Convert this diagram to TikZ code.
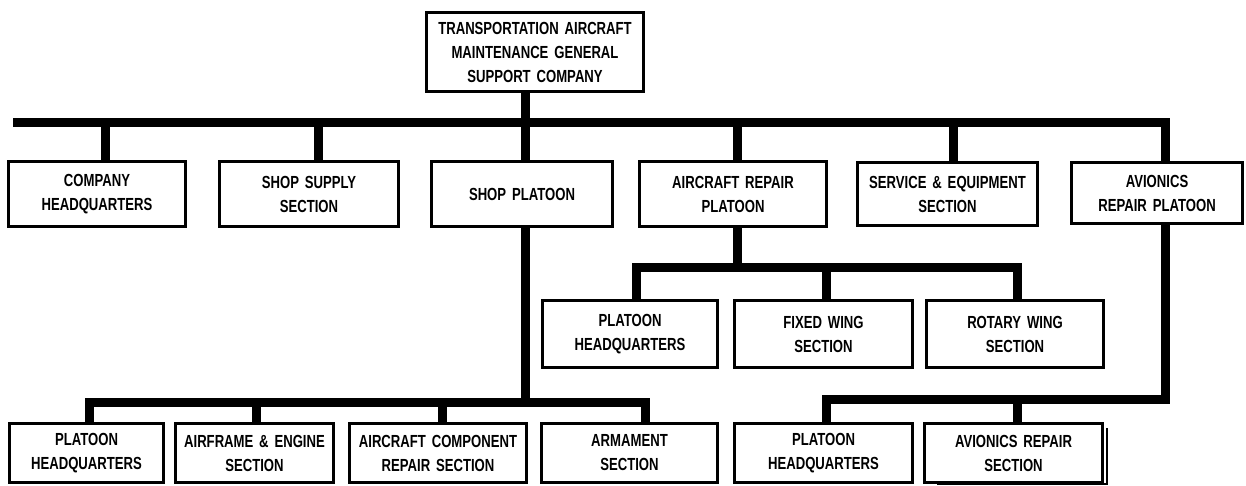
\documentclass[tikz,border=0pt]{standalone}
\usepackage{fontspec}
\setmainfont{Liberation Sans}[FakeStretch=0.75,WordSpace=1.6]
\begin{document}
\begin{tikzpicture}[x=1pt,y=-1pt,
  box/.style={draw=black,line width=1.8pt,fill=white,inner sep=0pt,align=center,
    font=\fontsize{17.5}{24}\selectfont\bfseries},
  conn/.style={line width=9pt,line join=miter,line cap=butt},
  thinl/.style={line width=1.2pt}]
\useasboundingbox (0,0) rectangle (1246,486);
% nodes
\node[box,minimum width=216pt,minimum height=78pt] (top) at (535,52) {TRANSPORTATION AIRCRAFT\\MAINTENANCE GENERAL\\SUPPORT COMPANY};
\node[box,minimum width=176pt,minimum height=64pt] (chq) at (97,194) {COMPANY\\HEADQUARTERS};
\node[box,minimum width=178pt,minimum height=64pt] (ssup) at (309,194) {SHOP SUPPLY\\SECTION};
\node[box,minimum width=180pt,minimum height=64pt] (shop) at (522,194) {SHOP PLATOON};
\node[box,minimum width=186pt,minimum height=64pt] (acr) at (733,194) {AIRCRAFT REPAIR\\PLATOON};
\node[box,minimum width=179pt,minimum height=62pt] (serv) at (947.5,194) {SERVICE \& EQUIPMENT\\SECTION};
\node[box,minimum width=170pt,minimum height=60pt] (avi) at (1157,193) {AVIONICS\\REPAIR PLATOON};
\node[box,minimum width=174pt,minimum height=66pt] (php) at (630,334) {PLATOON\\HEADQUARTERS};
\node[box,minimum width=177pt,minimum height=66pt] (fix) at (823.5,334) {FIXED WING\\SECTION};
\node[box,minimum width=176pt,minimum height=66pt] (rot) at (1015,334) {ROTARY WING\\SECTION};
\node[box,minimum width=153pt,minimum height=58pt] (sphq) at (86.5,453) {PLATOON\\HEADQUARTERS};
\node[box,minimum width=157pt,minimum height=58pt] (afe) at (254.5,453) {AIRFRAME \& ENGINE\\SECTION};
\node[box,minimum width=176pt,minimum height=58pt] (acc) at (438,453) {AIRCRAFT COMPONENT\\REPAIR SECTION};
\node[box,minimum width=175pt,minimum height=58pt] (arm) at (629.5,453) {ARMAMENT\\SECTION};
\node[box,minimum width=177pt,minimum height=58pt] (aphq) at (823.5,453) {PLATOON\\HEADQUARTERS};
\node[box,minimum width=177pt,minimum height=58pt] (ars) at (1013.5,453) {AVIONICS REPAIR\\SECTION};
% coordinates
\coordinate (mL) at (13,123);
\coordinate (mR) at (1165,123);
\coordinate (mT) at (525,123);
\coordinate (m1) at (105,123);
\coordinate (m2) at (318,123);
\coordinate (m3) at (525,123);
\coordinate (m4) at (737,123);
\coordinate (m5) at (953,123);
\coordinate (sT) at (525,402);
\coordinate (sL) at (89,402);
\coordinate (s2) at (256,402);
\coordinate (s3) at (442,402);
\coordinate (sR) at (645,402);
\coordinate (aT) at (737,267);
\coordinate (aL) at (636,267);
\coordinate (a2) at (826,267);
\coordinate (aR) at (1017,267);
\coordinate (vC) at (1165,399);
\coordinate (vL) at (826,399);
\coordinate (v2) at (1017,399);
% connectors
\draw[conn] (top.south -| mT) -- ([yshift=4.5pt]mT);
\draw[conn] (mL) -- (mR) -- (mR |- avi.north);
\draw[conn] (m1) -- (m1 |- chq.north);
\draw[conn] (m2) -- (m2 |- ssup.north);
\draw[conn] (m3) -- (m3 |- shop.north);
\draw[conn] (m4) -- (m4 |- acr.north);
\draw[conn] (m5) -- (m5 |- serv.north);
% shop platoon
\draw[conn] (shop.south -| sT) -- ([yshift=-4.5pt]sT);
\draw[conn] (sL |- sphq.north) -- (sL) -- (sR) -- (sR |- arm.north);
\draw[conn] (s2) -- (s2 |- afe.north);
\draw[conn] (s3) -- (s3 |- acc.north);
% aircraft repair platoon
\draw[conn] (acr.south -| aT) -- ([yshift=-4.5pt]aT);
\draw[conn] (aL |- php.north) -- (aL) -- (aR) -- (aR |- rot.north);
\draw[conn] (a2) -- (a2 |- fix.north);
% avionics
\draw[conn] (avi.south -| vC) -- (vC) -- (vL) -- (vL |- aphq.north);
\draw[conn] (v2) -- (v2 |- ars.north);
% redraw box borders on top of connector ends
\foreach \n in {top,chq,ssup,shop,acr,serv,avi,php,fix,rot,sphq,afe,acc,arm,aphq,ars}
  \draw[line width=1.8pt] (\n.north west) rectangle (\n.south east);
% shadow edge of avionics repair section
\coordinate (e1) at (1107,428);
\coordinate (e2) at (1107,484);
\coordinate (e3) at (937,484);
\draw[thinl] (e1) -- (e2) -- (e3);
\end{tikzpicture}
\end{document}
